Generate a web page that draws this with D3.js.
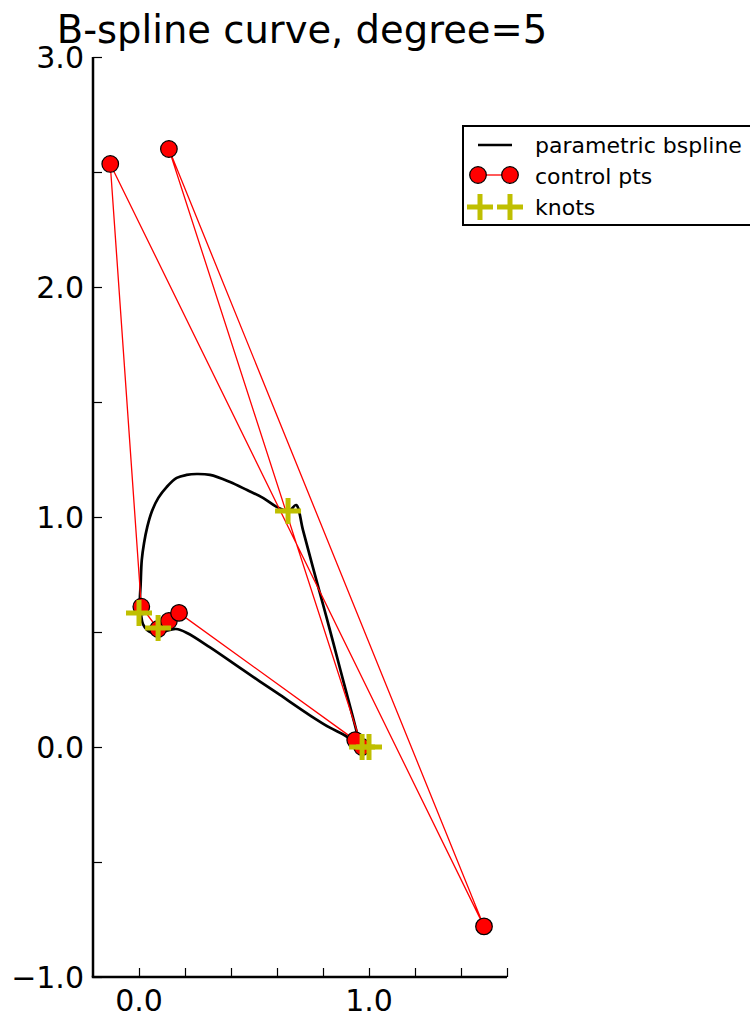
<!DOCTYPE html>
<html>
<head>
<meta charset="utf-8">
<script src="https://cdn.jsdelivr.net/npm/d3@7"></script>
<style>
  body { margin: 0; background: #fff; }
  svg { font-family: 'DejaVu Sans', sans-serif; }
</style>
</head>
<body>
<div id="chart"></div>
<script>
  // control polygon
  var ctrlX = [0.97, 0.13, 1.50, -0.125, 0.01, 0.083, 0.13, 0.174, 0.94];
  var ctrlY = [0.00, 2.60, -0.78, 2.535, 0.61, 0.513, 0.548, 0.583, 0.03];

  // knots
  var knotX = [0.0, 0.083, 0.648, 0.97, 1.0];
  var knotY = [0.583, 0.517, 1.026, 0.0, 0.0];

  // curve samples
  var curveX = [0.961, 0.930, 0.878, 0.822, 0.765, 0.713, 0.683, 0.652, 0.600, 0.539, 0.470, 0.396,
    0.309, 0.251, 0.207, 0.164, 0.120, 0.084, 0.055, 0.036, 0.022, 0.012, 0.007, 0.004, 0.009,
    0.017, 0.035, 0.057, 0.083, 0.117, 0.161, 0.209, 0.309, 0.452, 0.600, 0.743, 0.830, 0.896, 0.957];
  var curveY = [0.009, 0.130, 0.326, 0.539, 0.748, 0.943, 1.052, 1.026, 1.043, 1.083, 1.117, 1.152,
    1.183, 1.187, 1.183, 1.170, 1.130, 1.083, 1.022, 0.957, 0.887, 0.813, 0.704, 0.639, 0.574,
    0.535, 0.509, 0.496, 0.491, 0.504, 0.513, 0.496, 0.433, 0.335, 0.235, 0.138, 0.084, 0.050, 0.004];

  var xTicks = [0, 0.2, 0.4, 0.6, 0.8, 1.0, 1.2, 1.4, 1.6];
  var xLabels = [0.0, 1.0];
  var yTicks = [-1, -0.5, 0, 0.5, 1, 1.5, 2, 2.5, 3];
  var yLabels = [-1, 0, 1, 2, 3];

  var W = 750, H = 1016;
  var margin = { top: 57, left: 93 };
  var width = 414, height = 920;

  var svg = d3.select('#chart').append('svg')
    .attr('width', W)
    .attr('height', H);

  var x = d3.scaleLinear().domain([-0.2, 1.6]).range([0, width]);
  var y = d3.scaleLinear().domain([-1, 3]).range([height, 0]);

  var g = svg.append('g')
    .attr('transform', 'translate(' + margin.left + ',' + margin.top + ')');

  var fmt = function(d) { return d3.format('.1f')(d).replace('-', '\u2212'); };

  // axes: inward ticks, only some labelled
  var xAxis = d3.axisBottom(x).tickValues(xTicks).tickSize(-9).tickFormat('');
  var gx = g.append('g')
    .attr('transform', 'translate(0,' + height + ')')
    .call(xAxis);
  var yAxis = d3.axisLeft(y).tickValues(yTicks).tickSize(-9).tickFormat('');
  var gy = g.append('g').call(yAxis);

  [gx, gy].forEach(function(a) {
    a.select('.domain').remove();
    a.selectAll('.tick line').attr('stroke', '#000').attr('stroke-width', 1.2);
  });

  // left + bottom spines
  g.append('line').attr('x1', 0).attr('x2', 0).attr('y1', 0).attr('y2', height)
    .attr('stroke', '#000').attr('stroke-width', 2.5);
  g.append('line').attr('x1', -1.25).attr('x2', width).attr('y1', height).attr('y2', height)
    .attr('stroke', '#000').attr('stroke-width', 2.5);

  g.selectAll('.xlab').data(xLabels).enter().append('text')
    .attr('x', function(d) { return x(d); })
    .attr('y', height + 34)
    .attr('text-anchor', 'middle')
    .style('font-size', '30px')
    .text(fmt);

  g.selectAll('.ylab').data(yLabels).enter().append('text')
    .attr('x', -9)
    .attr('y', function(d) { return y(d); })
    .attr('dy', '0.36em')
    .attr('text-anchor', 'end')
    .style('font-size', '30px')
    .text(fmt);

  // title
  svg.append('text')
    .attr('x', margin.left + width / 2 + 2)
    .attr('y', 43)
    .attr('text-anchor', 'middle')
    .style('font-size', '38.5px')
    .text('B-spline curve, degree=5');

  // curve
  var curvePts = curveX.map(function(d, i) { return [d, curveY[i]]; });
  var line = d3.line()
    .x(function(d) { return x(d[0]); })
    .y(function(d) { return y(d[1]); })
    .curve(d3.curveCatmullRom.alpha(0.5));

  g.append('path')
    .datum(curvePts)
    .attr('d', line)
    .attr('fill', 'none')
    .attr('stroke', '#000')
    .attr('stroke-width', 2.7);

  // control polygon + points
  var ctrlPts = ctrlX.map(function(d, i) { return [d, ctrlY[i]]; });
  g.append('path')
    .datum(ctrlPts)
    .attr('d', d3.line().x(function(d) { return x(d[0]); }).y(function(d) { return y(d[1]); }))
    .attr('fill', 'none')
    .attr('stroke', 'red')
    .attr('stroke-width', 1.3);

  g.selectAll('.cp').data(ctrlPts).enter().append('circle')
    .attr('cx', function(d) { return x(d[0]); })
    .attr('cy', function(d) { return y(d[1]); })
    .attr('r', 8.3)
    .attr('fill', 'red')
    .attr('stroke', '#000')
    .attr('stroke-width', 1.2);

  // knots
  var knotPts = knotX.map(function(d, i) { return [d, knotY[i]]; });
  var plus = 13;
  g.selectAll('.knot').data(knotPts).enter().append('path')
    .attr('d', function(d) {
      var cx = x(d[0]), cy = y(d[1]);
      return 'M' + (cx - plus) + ',' + cy + 'H' + (cx + plus) +
        'M' + cx + ',' + (cy - plus) + 'V' + (cy + plus);
    })
    .attr('stroke', '#bfbf00')
    .attr('stroke-width', 5)
    .attr('fill', 'none');

  // legend
  var lg = svg.append('g').attr('transform', 'translate(463,126)');
  lg.append('rect')
    .attr('x', 0).attr('y', 0).attr('width', 320).attr('height', 99)
    .attr('fill', '#fff').attr('stroke', '#000').attr('stroke-width', 2);

  lg.append('line').attr('x1', 15).attr('x2', 49).attr('y1', 19).attr('y2', 19)
    .attr('stroke', '#000').attr('stroke-width', 2.7);

  lg.append('line').attr('x1', 15).attr('x2', 47).attr('y1', 49).attr('y2', 49)
    .attr('stroke', 'red').attr('stroke-width', 1.3);
  [15, 47].forEach(function(cx) {
    lg.append('circle').attr('cx', cx).attr('cy', 49).attr('r', 8.3)
      .attr('fill', 'red').attr('stroke', '#000').attr('stroke-width', 1.2);
  });

  [17, 47].forEach(function(cx) {
    lg.append('path')
      .attr('d', 'M' + (cx - plus) + ',81H' + (cx + plus) + 'M' + cx + ',' + (81 - plus) + 'V' + (81 + plus))
      .attr('stroke', '#bfbf00').attr('stroke-width', 5).attr('fill', 'none');
  });

  var legendLabels = ['parametric bspline', 'control pts', 'knots'];
  lg.selectAll('.lt').data(legendLabels).enter().append('text')
    .attr('x', 72)
    .attr('y', function(d, i) { return 19 + i * 31; })
    .attr('dy', '0.36em')
    .style('font-size', '22px')
    .text(function(d) { return d; });
</script>
</body>
</html>
